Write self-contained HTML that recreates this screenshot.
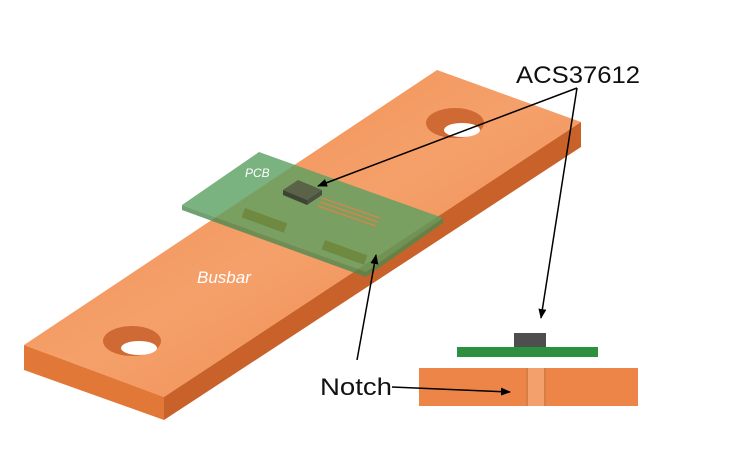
<!DOCTYPE html>
<html><head><meta charset="utf-8"><style>body{margin:0;background:#fff}svg{display:block}</style></head>
<body>
<svg width="736" height="461" viewBox="0 0 736 461" xmlns="http://www.w3.org/2000/svg">
<defs>
<linearGradient id="top" x1="0" y1="0" x2="1" y2="1">
<stop offset="0" stop-color="#f08a4e"/><stop offset="0.5" stop-color="#f5a06a"/><stop offset="1" stop-color="#ec844a"/></linearGradient>
<marker id="ah" markerWidth="10" markerHeight="8" refX="9" refY="4" orient="auto" markerUnits="userSpaceOnUse"><path d="M0,0 L10,4 L0,8 z" fill="#000"/></marker>
</defs>
<polygon points="437,70 581,122 164,397 24,345" fill="url(#top)"/>
<polygon points="24,345 164,397 164,420 24,370" fill="#e27838"/>
<polygon points="164,397 581,122 581,147 164,420" fill="#c8622a"/>
<ellipse cx="455" cy="123" rx="29" ry="15" fill="#d06a34"/>
<ellipse cx="462" cy="130" rx="18" ry="7" fill="#fff"/>
<ellipse cx="132" cy="341" rx="29" ry="15" fill="#d06a34"/>
<ellipse cx="139" cy="348" rx="18" ry="7" fill="#fff"/>
<polygon points="182,205 259,152 443,218 366,272" fill="#5aa060" fill-opacity="0.8"/>
<polygon points="182,205 366,272 366,277 182,210" fill="#4c8a50" fill-opacity="0.8"/>
<polygon points="366,272 443,218 443,223 366,277" fill="#4c8a50" fill-opacity="0.8"/>
<rect x="245" y="208" width="45" height="10" fill="#6f8a40" transform="rotate(20 245 208)"/>
<rect x="325" y="240" width="45" height="10" fill="#6f8a40" transform="rotate(20 325 240)"/>
<polygon points="283,190 298,180 322,190 307,200" fill="#5a6248"/>
<polygon points="283,190 307,200 307,205 283,195" fill="#3e4434"/>
<polygon points="307,200 322,190 322,195 307,205" fill="#4a5040"/>
<path d="M322,198 L380,218 M320,202 L378,222 M318,206 L376,226" stroke="#d8844a" stroke-width="1.2"/>
<text x="245" y="177" font-family="Liberation Sans,sans-serif" font-style="italic" font-size="12" fill="#fff">PCB</text>
<text x="197" y="283" font-family="Liberation Sans,sans-serif" font-style="italic" font-size="17" fill="#fff">Busbar</text>
<rect x="514" y="333" width="32" height="14" fill="#4e4e4e"/>
<rect x="457" y="347" width="141" height="10" fill="#2e8f3e"/>
<rect x="419" y="368" width="219" height="38" fill="#ee8548"/>
<rect x="526" y="368" width="20" height="38" fill="#f3a06c"/>
<line x1="527" y1="368" x2="527" y2="406" stroke="#b85a28"/>
<line x1="545" y1="368" x2="545" y2="406" stroke="#b85a28"/>
<text x="516" y="83" font-family="Liberation Sans,sans-serif" font-size="24" textLength="124" lengthAdjust="spacingAndGlyphs" fill="#111">ACS37612</text>
<text x="320" y="395" font-family="Liberation Sans,sans-serif" font-size="24" textLength="72" lengthAdjust="spacingAndGlyphs" fill="#111">Notch</text>
<line x1="577" y1="88" x2="318" y2="186" stroke="#000" stroke-width="1.5" marker-end="url(#ah)"/>
<line x1="577" y1="88" x2="541" y2="318" stroke="#000" stroke-width="1.5" marker-end="url(#ah)"/>
<line x1="357" y1="360" x2="376" y2="255" stroke="#000" stroke-width="1.5" marker-end="url(#ah)"/>
<line x1="392" y1="387" x2="510" y2="392" stroke="#000" stroke-width="1.5" marker-end="url(#ah)"/>
</svg>
</body></html>
